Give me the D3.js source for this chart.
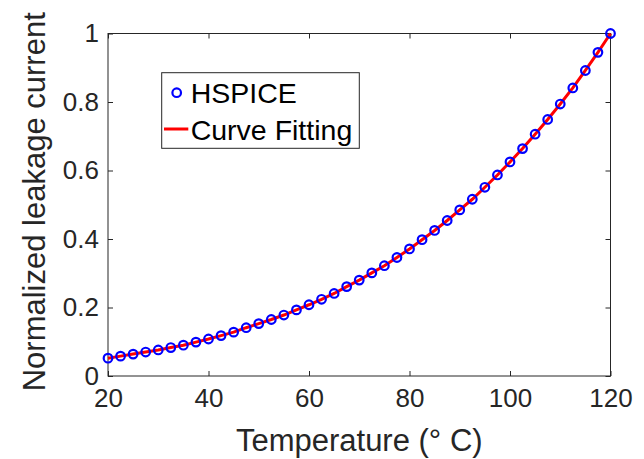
<!DOCTYPE html>
<html>
<head>
<meta charset="utf-8">
<script src="https://cdn.jsdelivr.net/npm/d3@7"></script>
<style>
  html, body { margin: 0; padding: 0; background: #fff; }
  svg { display: block; font-family: "Liberation Sans", Arial, Helvetica, sans-serif; }
</style>
</head>
<body>
<svg id="chart" width="644" height="459"></svg>
<script>
const temperatures = [20, 22.5, 25, 27.5, 30, 32.5, 35, 37.5, 40, 42.5, 45, 47.5, 50, 52.5, 55, 57.5,
  60, 62.5, 65, 67.5, 70, 72.5, 75, 77.5, 80, 82.5, 85, 87.5, 90, 92.5, 95, 97.5,
  100, 102.5, 105, 107.5, 110, 112.5, 115, 117.5, 120];
const hspice = [0.052, 0.058, 0.064, 0.070, 0.076, 0.083, 0.090, 0.099, 0.108, 0.118, 0.128, 0.141,
  0.153, 0.165, 0.178, 0.193, 0.208, 0.224, 0.241, 0.261, 0.280, 0.301, 0.322, 0.346,
  0.371, 0.398, 0.425, 0.454, 0.485, 0.516, 0.551, 0.587, 0.625, 0.664, 0.706, 0.749,
  0.794, 0.841, 0.892, 0.945, 1.000];
const curveFit = [0.052, 0.058, 0.064, 0.070, 0.076, 0.083, 0.090, 0.099, 0.108, 0.118, 0.128, 0.141,
  0.153, 0.165, 0.178, 0.193, 0.208, 0.224, 0.241, 0.261, 0.280, 0.301, 0.322, 0.346,
  0.371, 0.398, 0.425, 0.454, 0.485, 0.516, 0.551, 0.587, 0.625, 0.664, 0.706, 0.749,
  0.794, 0.841, 0.892, 0.945, 1.000];
const xTicks = [20, 40, 60, 80, 100, 120];
const yTicks = [0, 0.2, 0.4, 0.6, 0.8, 1];
const xLabel = "Temperature (° C)";
const yLabel = "Normalized leakage current";
const legendLabels = ["HSPICE", "Curve Fitting"];

const svg = d3.select("#chart");
const L = 108, R = 610.5, T = 33.5, B = 376;
const axisColor = "#262626";

const x = d3.scaleLinear().domain([20, 120]).range([L, R]);
const y = d3.scaleLinear().domain([0, 1]).range([B, T]);

// box
svg.append("rect").attr("x", L).attr("y", T).attr("width", R - L).attr("height", B - T)
  .attr("fill", "none").attr("stroke", axisColor).attr("stroke-width", 1);

const fmt = d => (d === 0 ? "0" : d === 1 ? "1" : d3.format(".1f")(d));

// bottom axis
const xb = svg.append("g").attr("transform", `translate(0,${B})`)
  .call(d3.axisBottom(x).tickValues(xTicks).tickSize(-5).tickPadding(13).tickFormat(d3.format("d")));
// top ticks
const xt = svg.append("g").attr("transform", `translate(0,${T})`)
  .call(d3.axisTop(x).tickValues(xTicks).tickSize(-5).tickFormat(""));
// left axis
const yl = svg.append("g").attr("transform", `translate(${L},0)`)
  .call(d3.axisLeft(y).tickValues(yTicks).tickSize(-5).tickPadding(9).tickFormat(fmt));
// right ticks
const yr = svg.append("g").attr("transform", `translate(${R},0)`)
  .call(d3.axisRight(y).tickValues(yTicks).tickSize(-5).tickFormat(""));

[xb, xt, yl, yr].forEach(g => {
  g.select(".domain").remove();
  g.selectAll(".tick line").attr("stroke", axisColor);
  g.selectAll(".tick text").attr("fill", axisColor)
    .style("font-size", "26px").style("font-family", "'Liberation Sans', Arial, sans-serif");
});

// axis labels
svg.append("text").attr("x", (L + R) / 2).attr("y", 451)
  .attr("text-anchor", "middle").attr("fill", axisColor)
  .style("font-size", "31px").text(xLabel);
svg.append("text").attr("transform", `translate(45,${(T + B) / 2 - 3}) rotate(-90)`)
  .attr("text-anchor", "middle").attr("fill", axisColor)
  .style("font-size", "31px").text(yLabel);

// curve fitting line
const line = d3.line().x((d, i) => x(temperatures[i])).y(d => y(d));
svg.append("path").datum(curveFit).attr("d", line)
  .attr("fill", "none").attr("stroke", "#ff0000").attr("stroke-width", 3);

// HSPICE markers
svg.append("g").selectAll("circle").data(hspice).join("circle")
  .attr("cx", (d, i) => x(temperatures[i])).attr("cy", d => y(d))
  .attr("r", 4.3).attr("fill", "none").attr("stroke", "#0000ff").attr("stroke-width", 2.2);

// legend
const lg = svg.append("g");
lg.append("rect").attr("x", 161.7).attr("y", 72.7).attr("width", 197.6).attr("height", 75.6)
  .attr("fill", "#fff").attr("stroke", axisColor).attr("stroke-width", 1);
lg.append("circle").attr("cx", 176.7).attr("cy", 92.7).attr("r", 4.3)
  .attr("fill", "none").attr("stroke", "#0000ff").attr("stroke-width", 2.2);
lg.append("line").attr("x1", 164).attr("x2", 188.3).attr("y1", 129).attr("y2", 129)
  .attr("stroke", "#ff0000").attr("stroke-width", 3);
lg.append("text").attr("x", 190.7).attr("y", 103.3).attr("fill", "#000")
  .style("font-size", "28.5px").text(legendLabels[0]);
lg.append("text").attr("x", 190.7).attr("y", 140).attr("fill", "#000")
  .style("font-size", "28.5px").text(legendLabels[1]);
</script>
</body>
</html>
